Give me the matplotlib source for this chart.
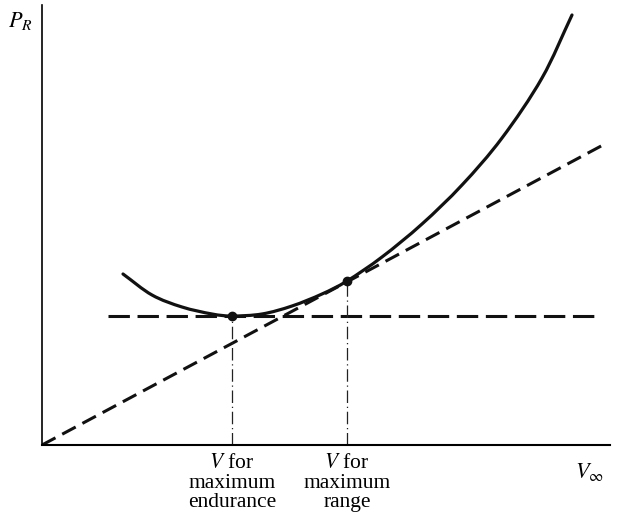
import matplotlib.pyplot as plt
import numpy as np
from matplotlib.path import Path
from matplotlib.patches import PathPatch

# power required curve (arbitrary units)
V = [81, 110, 140, 170, 190, 220, 250, 280, 305, 340, 380, 420, 460, 500, 530]
PR = [171, 150, 138, 131, 129, 131, 139, 151, 164, 188, 221, 260, 307, 367, 430]

V_end, PR_end = 190, 129      # max endurance point
V_rng, PR_rng = 305, 164      # max range point
tangent_V = [0, 561]
tangent_P = [0, 300]
horiz_V = [66, 556]

plt.rcParams['font.family'] = ['Liberation Serif', 'DejaVu Serif']
plt.rcParams['mathtext.fontset'] = 'stix'


def smooth_path(xs, ys):
    # catmull-rom through the read points, drawn as bezier segments
    p = np.column_stack([xs, ys]).astype(float)
    verts = [p[0]]
    codes = [Path.MOVETO]
    for i in range(len(p) - 1):
        p0 = p[i - 1] if i > 0 else 2 * p[0] - p[1]
        p3 = p[i + 2] if i + 2 < len(p) else 2 * p[-1] - p[-2]
        c1 = p[i] + (p[i + 1] - p0) / 6
        c2 = p[i + 1] - (p3 - p[i]) / 6
        verts += [c1, c2, p[i + 1]]
        codes += [Path.CURVE4] * 3
    return Path(verts, codes)


fig = plt.figure(figsize=(6.35, 5.24), dpi=100)
ax = fig.add_axes([42/635, 79/524, 568/635, 440/524])

ax.add_patch(PathPatch(smooth_path(V, PR), fill=False, edgecolor='#111111', lw=2.3,
                       capstyle='round'))
ax.plot(tangent_V, tangent_P, color='#111111', lw=2.2, dashes=(5, 2.5))
ax.plot(horiz_V, [PR_end, PR_end], color='#111111', lw=2.2, dashes=(7, 2.5))
ax.plot([V_end, V_end], [0, PR_end], color='#222222', lw=0.9, dashes=(10, 3, 1, 3))
ax.plot([V_rng, V_rng], [0, PR_rng], color='#222222', lw=0.9, dashes=(10, 3, 1, 3))
ax.plot([V_end, V_rng], [PR_end, PR_rng], 'o', color='#111111', ms=6)

ax.set_xlim(0, 568)
ax.set_ylim(0, 440)
for s in ['top', 'right']:
    ax.spines[s].set_visible(False)
ax.spines['left'].set_linewidth(1.2)
ax.spines['bottom'].set_linewidth(1.5)
ax.set_xticks([])
ax.set_yticks([])

ax.text(-22, 424, r'$P_R$', fontsize=16, ha='center', va='center')
ax.text(547, -27, r'$V_\infty$', fontsize=16, ha='center', va='center')
ax.text(V_end, -9, r'$V$ for' + '\nmaximum\nendurance', fontsize=15.5, ha='center', va='top',
        linespacing=1.05)
ax.text(V_rng, -9, r'$V$ for' + '\nmaximum\nrange', fontsize=15.5, ha='center', va='top',
        linespacing=1.05)

fig.savefig('out.png', dpi=100)
